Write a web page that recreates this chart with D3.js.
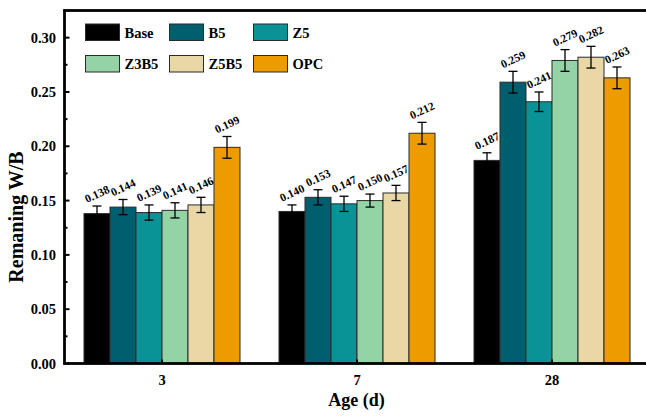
<!DOCTYPE html>
<html>
<head>
<meta charset="utf-8">
<script src="https://cdn.jsdelivr.net/npm/d3@7"></script>
<style>
  body { margin: 0; background: #fff; }
  svg { display: block; font-family: "Liberation Serif", "Times New Roman", serif; font-weight: bold; }
</style>
</head>
<body>
<svg id="chart" width="646" height="418"></svg>
<script>
// chart data
var ages = ["3", "7", "28"];
var mixes = ["Base", "B5", "Z5", "Z3B5", "Z5B5", "OPC"];
var colors = ["#000000", "#005f6f", "#0a9396", "#93d3a5", "#e9d7a6", "#ee9b00"];
var values = [
    [0.138, 0.144, 0.139, 0.141, 0.146, 0.199],
    [0.140, 0.153, 0.147, 0.150, 0.157, 0.212],
    [0.187, 0.259, 0.241, 0.279, 0.282, 0.263]
];
var errors = [
    [0.007, 0.007, 0.007, 0.007, 0.007, 0.010],
    [0.006, 0.007, 0.007, 0.006, 0.007, 0.010],
    [0.007, 0.010, 0.009, 0.010, 0.010, 0.010]
];
var yTicks = [0, 0.05, 0.10, 0.15, 0.20, 0.25, 0.30];

// plot box (window.top is reserved, so use other names)
var plotLeft = 64.5, plotRight = 649.5, plotTop = 10.5, plotBottom = 363.5;

var svg = d3.select("#chart");

var x0 = d3.scaleBand().domain(ages).range([plotLeft, plotRight]).paddingInner(0.2).paddingOuter(0.1);
var x1 = d3.scaleBand().domain(mixes).range([0, x0.bandwidth()]);
var y = d3.scaleLinear().domain([0, 0.325]).range([plotBottom, plotTop]);

// bars
var groups = svg.append("g").selectAll("g")
    .data(ages)
    .join("g")
    .attr("transform", function(d) { return "translate(" + x0(d) + ",0)"; });

groups.each(function(age, gi) {
    var g = d3.select(this);
    var rows = mixes.map(function(m, i) {
        return { mix: m, v: values[gi][i], e: errors[gi][i], c: colors[i] };
    });
    var cx = function(d) { return x1(d.mix) + x1.bandwidth() / 2; };

    g.selectAll("rect.bar")
        .data(rows)
        .join("rect")
        .attr("class", "bar")
        .attr("x", function(d) { return x1(d.mix); })
        .attr("y", function(d) { return y(d.v); })
        .attr("width", x1.bandwidth())
        .attr("height", function(d) { return y(0) - y(d.v); })
        .attr("fill", function(d) { return d.c; })
        .attr("stroke", "#2b2b2b")
        .attr("stroke-width", 1);

    // error bars
    var eb = g.selectAll("g.err")
        .data(rows)
        .join("g")
        .attr("class", "err")
        .attr("stroke", "#000")
        .attr("stroke-width", 1.3);
    eb.append("line")
        .attr("x1", cx).attr("x2", cx)
        .attr("y1", function(d) { return y(d.v + d.e); })
        .attr("y2", function(d) { return y(d.v - d.e); });
    eb.append("line")
        .attr("x1", function(d) { return cx(d) - 4.5; })
        .attr("x2", function(d) { return cx(d) + 4.5; })
        .attr("y1", function(d) { return y(d.v + d.e); })
        .attr("y2", function(d) { return y(d.v + d.e); });
    eb.append("line")
        .attr("x1", function(d) { return cx(d) - 4.5; })
        .attr("x2", function(d) { return cx(d) + 4.5; })
        .attr("y1", function(d) { return y(d.v - d.e); })
        .attr("y2", function(d) { return y(d.v - d.e); });

    // value labels
    g.selectAll("text.val")
        .data(rows)
        .join("text")
        .attr("class", "val")
        .attr("transform", function(d) {
            return "translate(" + cx(d) + "," + (y(d.v + d.e) - 12) + ") rotate(-25)";
        })
        .attr("text-anchor", "middle")
        .attr("dominant-baseline", "central")
        .attr("font-size", 11.5)
        .attr("fill", "#000")
        .text(function(d) { return d3.format(".3f")(d.v); });
});

// y axis ticks (inward)
var yAxis = svg.append("g");
yAxis.selectAll("line.minor")
    .data(d3.range(0.025, 0.325, 0.05))
    .join("line")
    .attr("x1", plotLeft).attr("x2", plotLeft + 3)
    .attr("y1", function(d) { return y(d); }).attr("y2", function(d) { return y(d); })
    .attr("stroke", "#000").attr("stroke-width", 2);
yAxis.selectAll("line.major")
    .data(yTicks)
    .join("line")
    .attr("x1", plotLeft).attr("x2", plotLeft + 5)
    .attr("y1", function(d) { return y(d); }).attr("y2", function(d) { return y(d); })
    .attr("stroke", "#000").attr("stroke-width", 2);
yAxis.selectAll("text")
    .data(yTicks)
    .join("text")
    .attr("x", 56)
    .attr("y", function(d) { return y(d); })
    .attr("dy", "0.35em")
    .attr("text-anchor", "end")
    .attr("font-size", 14.5)
    .text(function(d) { return d3.format(".2f")(d); });

// x axis ticks (inward)
var xAxis = svg.append("g");
xAxis.selectAll("line")
    .data(ages)
    .join("line")
    .attr("x1", function(d) { return x0(d) + x0.bandwidth() / 2; })
    .attr("x2", function(d) { return x0(d) + x0.bandwidth() / 2; })
    .attr("y1", plotBottom).attr("y2", plotBottom - 4)
    .attr("stroke", "#000").attr("stroke-width", 2);
xAxis.selectAll("text")
    .data(ages)
    .join("text")
    .attr("x", function(d) { return x0(d) + x0.bandwidth() / 2; })
    .attr("y", 385)
    .attr("text-anchor", "middle")
    .attr("font-size", 14.5)
    .text(function(d) { return d; });

// frame
svg.append("rect")
    .attr("x", plotLeft).attr("y", plotTop)
    .attr("width", plotRight - plotLeft).attr("height", plotBottom - plotTop)
    .attr("fill", "none")
    .attr("stroke", "#000")
    .attr("stroke-width", 2.8);

// axis titles
svg.append("text")
    .attr("transform", "translate(23,217) rotate(-90)")
    .attr("text-anchor", "middle")
    .attr("font-size", 20)
    .text("Remaning W/B");
svg.append("text")
    .attr("x", 356.5)
    .attr("y", 406)
    .attr("text-anchor", "middle")
    .attr("font-size", 18)
    .text("Age (d)");

// legend
var legend = svg.append("g").selectAll("g")
    .data(mixes)
    .join("g")
    .attr("transform", function(d, i) {
        return "translate(" + (85.5 + (i % 3) * 84) + "," + (24 + Math.floor(i / 3) * 31.5) + ")";
    });
legend.append("rect")
    .attr("width", 34).attr("height", 16.5)
    .attr("fill", function(d, i) { return colors[i]; })
    .attr("stroke", "#2b2b2b").attr("stroke-width", 1);
legend.append("text")
    .attr("x", 39)
    .attr("y", 8.5)
    .attr("dy", "0.35em")
    .attr("font-size", 14.5)
    .text(function(d) { return d; });
</script>
</body>
</html>
